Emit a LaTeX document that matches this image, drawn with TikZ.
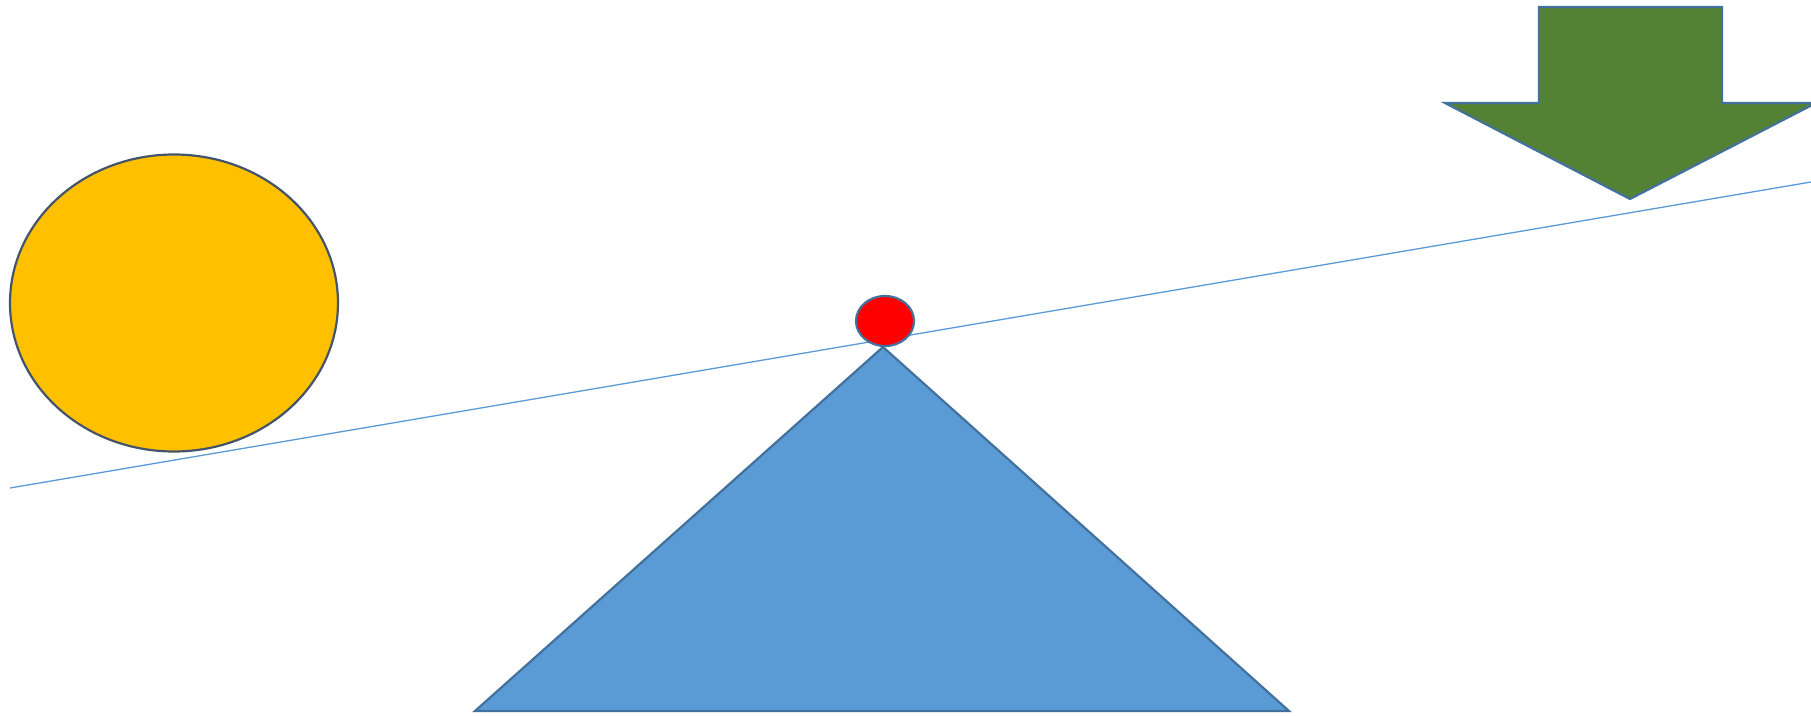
\documentclass[tikz,border=0pt]{standalone}
\usetikzlibrary{shapes.geometric}

\definecolor{sunyellow}{HTML}{FFC000}
\definecolor{slateline}{HTML}{44546A}
\definecolor{fulcblue}{HTML}{5B9BD5}
\definecolor{fulcedge}{HTML}{41719C}
\definecolor{pushgreen}{HTML}{548235}

\begin{document}
\begin{tikzpicture}[
    x=1pt, y=-1pt, line join=miter,
    loadball/.style ={ellipse, draw=slateline, fill=sunyellow, line width=2.2pt, inner sep=0pt},
    pivot/.style    ={ellipse, draw=fulcedge, fill=red, line width=2.2pt, inner sep=0pt},
    beam/.style     ={draw=fulcblue, line width=1.3pt},
    fulcrum/.style  ={draw=fulcedge, fill=fulcblue, line width=2.2pt},
    pusharrow/.style={draw=fulcedge, fill=pushgreen, line width=2.2pt}
]
\useasboundingbox (0,0) rectangle (1811,715);
\clip (0,0) rectangle (1811,715);

% lever beam
\coordinate (beamL) at (10,488);
\coordinate (beamR) at (1811,182);
\draw[beam] (beamL) -- (beamR);

% load on the left end
\node[loadball, minimum width=328pt, minimum height=297pt] (ball) at (174,303) {};

% fulcrum
\coordinate (apex) at (883,347);
\coordinate (baseL) at (475,711);
\coordinate (baseR) at (1289,711);
\draw[fulcrum] (apex) -- (baseR) -- (baseL) -- cycle;

% pivot point
\node[pivot, minimum width=58pt, minimum height=50pt] (pin) at (885,321) {};

% force arrow on the right end
\draw[pusharrow] (1539,7) -- (1722,7) -- (1722,103) -- (1816,103)
  -- (1630,199) -- (1445,103) -- (1539,103) -- cycle;
\end{tikzpicture}
\end{document}
